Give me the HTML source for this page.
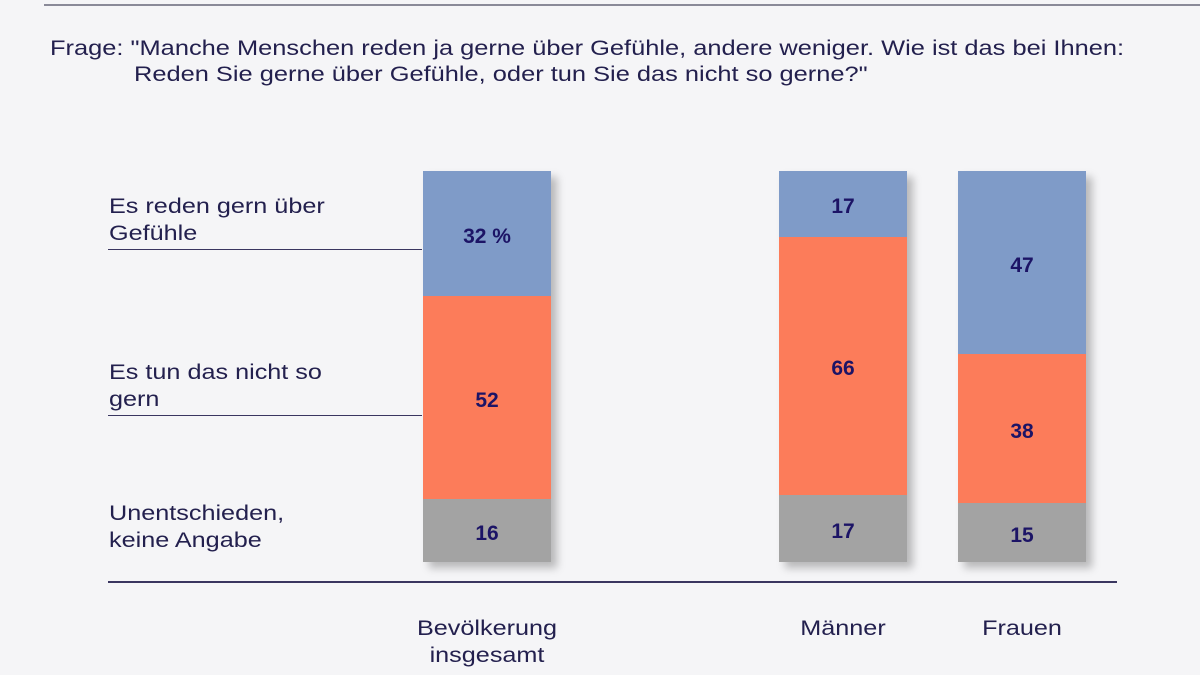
<!DOCTYPE html>
<html><head><meta charset="utf-8"><style>
body{margin:0;width:1200px;height:675px;background:#f5f5f7;position:relative;overflow:hidden;font-family:"Liberation Sans",sans-serif;color:#23204e}
.a{position:absolute}
.t{font-size:21px;line-height:27px;white-space:nowrap;transform:scaleX(1.2);transform-origin:0 0}
.c{transform-origin:50% 0}
.bar{position:absolute;width:128px;box-shadow:6px 6px 8px rgba(0,0,0,0.25)}
.s{position:absolute;left:0;width:128px;display:flex;align-items:center;justify-content:center;font-weight:bold;font-size:21px;color:#1c1466;padding-top:6px;box-sizing:border-box}
.b{background:#7f9bc8}.o{background:#fc7c5a}.g{background:#a3a3a3}
.ln{position:absolute;height:1px;background:#3a3660}
</style></head><body>
<div class="a" style="left:44px;top:4px;width:1156px;height:2px;background:#8a8a98"></div>
<div class="a t" style="left:50px;top:35px;transform:scaleX(1.21)">Frage: "Manche Menschen reden ja gerne über Gefühle, andere weniger. Wie ist das bei Ihnen:</div>
<div class="a t" style="left:134px;top:61px;transform:scaleX(1.21)">Reden Sie gerne über Gefühle, oder tun Sie das nicht so gerne?"</div>

<div class="a t" style="left:109px;top:193px">Es reden gern über<br>Gefühle</div>
<div class="ln" style="left:108px;top:249px;width:314px"></div>
<div class="a t" style="left:109px;top:359px">Es tun das nicht so<br>gern</div>
<div class="ln" style="left:108px;top:415px;width:314px"></div>
<div class="a t" style="left:109px;top:500px">Unentschieden,<br>keine Angabe</div>

<div class="bar" style="left:423px;top:171px;height:391px">
<div class="s b" style="top:0;height:125px">32 %</div>
<div class="s o" style="top:125px;height:203px">52</div>
<div class="s g" style="top:328px;height:63px">16</div></div>
<div class="bar" style="left:779px;top:171px;height:391px">
<div class="s b" style="top:0;height:66px">17</div>
<div class="s o" style="top:66px;height:258px">66</div>
<div class="s g" style="top:324px;height:67px">17</div></div>
<div class="bar" style="left:958px;top:171px;height:391px">
<div class="s b" style="top:0;height:183px">47</div>
<div class="s o" style="top:183px;height:149px">38</div>
<div class="s g" style="top:332px;height:59px">15</div></div>

<div class="a" style="left:108px;top:581px;width:1009px;height:2px;background:#3a3660"></div>
<div class="a t c" style="left:387px;width:200px;text-align:center;top:615px">Bevölkerung<br>insgesamt</div>
<div class="a t c" style="left:743px;width:200px;text-align:center;top:615px">Männer</div>
<div class="a t c" style="left:922px;width:200px;text-align:center;top:615px">Frauen</div>
</body></html>
